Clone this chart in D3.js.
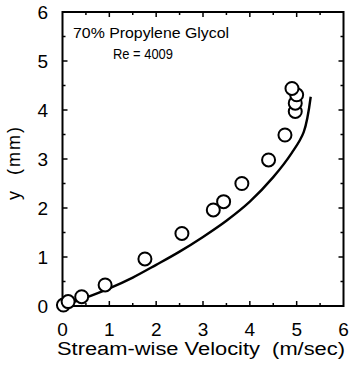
<!DOCTYPE html>
<html>
<head>
<meta charset="utf-8">
<script src="https://cdn.jsdelivr.net/npm/d3@7"></script>
<style>
  html, body { margin: 0; padding: 0; background: #fff; }
  svg { display: block; }
  text { font-family: "Liberation Sans", Arial, Helvetica, sans-serif; fill: #000; }
</style>
</head>
<body>
<svg id="chart" width="352" height="368"></svg>
<script>
// Measured velocity profile (open circles)
const measuredU = [0.02, 0.12, 0.41, 0.91, 1.76, 2.55, 3.22, 3.44, 3.83, 4.40, 4.75, 4.97, 4.97, 5.00, 4.90];
const measuredY = [0.02, 0.09, 0.19, 0.43, 0.96, 1.48, 1.96, 2.13, 2.50, 2.98, 3.49, 3.97, 4.14, 4.31, 4.44];

// Predicted profile (solid line)
const modelU = [0.00, 0.50, 1.00, 1.50, 2.00, 2.50, 3.00, 3.50, 4.00, 4.50, 4.90, 5.15, 5.30];
const modelY = [0.00, 0.17, 0.36, 0.58, 0.84, 1.11, 1.41, 1.74, 2.13, 2.63, 3.13, 3.55, 4.27];

const xTicks = [0, 1, 2, 3, 4, 5, 6];
const yTicks = [0, 1, 2, 3, 4, 5, 6];
const minorTicks = [0.5, 1.5, 2.5, 3.5, 4.5, 5.5];

const svg = d3.select("#chart");
const plotL = 62.5, plotR = 343.5, plotT = 12, plotB = 306;

const x = d3.scaleLinear().domain([0, 6]).range([plotL, plotR]);
const y = d3.scaleLinear().domain([0, 6]).range([plotB, plotT]);

// Frame
svg.append("rect")
  .attr("x", plotL).attr("y", plotT)
  .attr("width", plotR - plotL).attr("height", plotB - plotT)
  .attr("fill", "none").attr("stroke", "#000").attr("stroke-width", 2);

// Inward ticks on all four sides
const tickG = svg.append("g").attr("stroke", "#000").attr("stroke-width", 1.5);
function ticks(vals, len) {
  vals.forEach(v => {
    tickG.append("line").attr("x1", x(v)).attr("x2", x(v)).attr("y1", plotB).attr("y2", plotB - len);
    tickG.append("line").attr("x1", x(v)).attr("x2", x(v)).attr("y1", plotT).attr("y2", plotT + len);
    tickG.append("line").attr("y1", y(v)).attr("y2", y(v)).attr("x1", plotL).attr("x2", plotL + len);
    tickG.append("line").attr("y1", y(v)).attr("y2", y(v)).attr("x1", plotR).attr("x2", plotR - len);
  });
}
ticks(xTicks.slice(1, -1), 5);
ticks(minorTicks, 3);

// Tick labels
svg.append("g").selectAll("text").data(xTicks).join("text")
  .attr("x", d => x(d)).attr("y", 336)
  .attr("text-anchor", "middle")
  .attr("font-size", 19)
  .text(d => d);

svg.append("g").selectAll("text").data(yTicks).join("text")
  .attr("x", 48).attr("y", d => y(d) + 7)
  .attr("text-anchor", "end")
  .attr("font-size", 19)
  .text(d => d);

// Axis titles
svg.append("text")
  .attr("x", 57).attr("y", 355)
  .attr("font-size", 18)
  .attr("xml:space", "preserve")
  .attr("textLength", 288)
  .attr("lengthAdjust", "spacingAndGlyphs")
  .text("Stream-wise Velocity  (m/sec)");

svg.append("text")
  .attr("transform", "translate(20,200) rotate(-90)")
  .attr("font-size", 18)
  .attr("xml:space", "preserve")
  .attr("textLength", 73)
  .attr("lengthAdjust", "spacing")
  .text("y  (mm)");

// Annotation
svg.append("text").attr("x", 73).attr("y", 38)
  .attr("font-size", 15.5)
  .attr("textLength", 156).attr("lengthAdjust", "spacingAndGlyphs")
  .text("70% Propylene Glycol");
svg.append("text").attr("x", 113).attr("y", 59)
  .attr("font-size", 15)
  .attr("textLength", 60).attr("lengthAdjust", "spacingAndGlyphs")
  .text("Re = 4009");

// Model curve
const line = d3.line()
  .x(d => x(d[0])).y(d => y(d[1]))
  .curve(d3.curveCatmullRom.alpha(0.5));
svg.append("path")
  .datum(modelU.map((u, i) => [u, modelY[i]]))
  .attr("d", line)
  .attr("fill", "none").attr("stroke", "#000").attr("stroke-width", 2.4);

// Measured points
svg.append("g").selectAll("circle")
  .data(measuredU.map((u, i) => [u, measuredY[i]]))
  .join("circle")
  .attr("cx", d => x(d[0])).attr("cy", d => y(d[1]))
  .attr("r", 6.5)
  .attr("fill", "#fff").attr("stroke", "#000").attr("stroke-width", 2);
</script>
</body>
</html>
